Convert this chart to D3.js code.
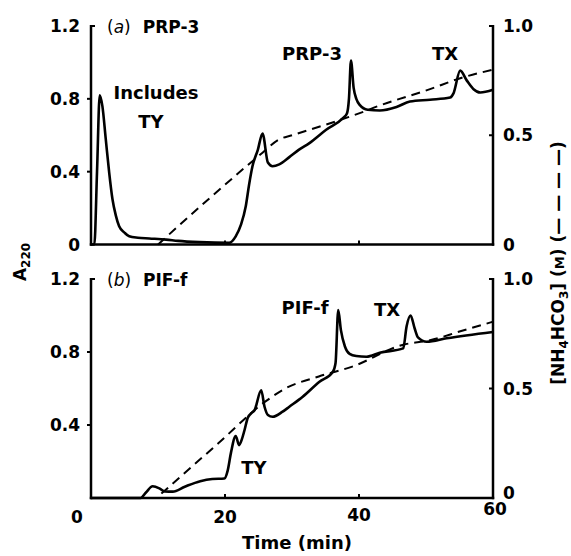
<!DOCTYPE html>
<html><head><meta charset="utf-8">
<script src="https://cdn.jsdelivr.net/npm/d3@7"></script>
<style>
html,body{margin:0;padding:0;background:#fff;}
text{font-family:"DejaVu Sans",Verdana,sans-serif;font-weight:bold;fill:#000;}
</style></head>
<body>
<svg id="chart" width="571" height="556"></svg>
<script>
// ---- data ----
const timeTicks = [0, 20, 40, 60];
const absTicks = [0.4, 0.8, 1.2];
const concTicks = [0, 0.5, 1.0];

// panel (a) PRP-3: A220 trace [time (min), absorbance]
const prpA220 = [[0,0],[0.5,0],[0.9,0.4],[1.3,0.82],[1.7,0.76],[2.2,0.58],[2.7,0.4],[3.2,0.25],[3.7,0.16],[4.2,0.1],[5,0.065],[5.7,0.045],[7,0.037],[8.7,0.033],[11.2,0.027],[13,0.02],[16.2,0.013],[20.6,0.009],[21.6,0.045],[22.4,0.11],[23.1,0.21],[23.6,0.33],[24.1,0.43],[24.9,0.52],[25.6,0.61],[26.4,0.45],[27.1,0.43],[28.1,0.44],[29.6,0.48],[31,0.52],[32.6,0.557],[35.1,0.63],[37.6,0.694],[38.2,0.72],[38.5,0.8],[38.8,1.01],[39.2,0.86],[39.6,0.8],[40.1,0.767],[41.3,0.74],[43.1,0.736],[45.6,0.755],[47.6,0.785],[50.6,0.795],[53.6,0.807],[54.1,0.83],[55.1,0.955],[56.1,0.9],[57.1,0.853],[58.1,0.835],[60,0.85]];
// panel (a) gradient [time, NH4HCO3 (M)]
const prpGradient = [[10,0],[18,0.22],[25.6,0.42],[28,0.48],[30,0.5],[35,0.548],[40,0.6],[43,0.635],[50.6,0.711],[55,0.76],[60,0.8]];

// panel (b) PIF-f
const pifA220 = [[0,0],[7.4,0],[8.2,0.03],[9.2,0.064],[10.2,0.053],[11,0.036],[12.2,0.035],[14,0.062],[16.3,0.092],[18.1,0.104],[19.9,0.107],[20.4,0.15],[20.9,0.25],[21.6,0.34],[22.1,0.29],[22.5,0.32],[22.9,0.37],[23.4,0.44],[23.9,0.464],[24.4,0.48],[25.4,0.59],[25.9,0.5],[26.4,0.455],[27.1,0.445],[28.6,0.473],[29.6,0.5],[31.6,0.555],[34.1,0.637],[36.1,0.692],[36.5,0.74],[36.9,1.03],[37.3,0.92],[37.9,0.83],[38.6,0.79],[39.6,0.778],[41.1,0.774],[43.1,0.796],[46.6,0.82],[47.1,0.94],[47.7,1.0],[48.3,0.93],[48.8,0.88],[50.1,0.856],[53.1,0.875],[60,0.91]];
const pifGradient = [[10.5,0.02],[19,0.25],[26,0.44],[29,0.5],[34,0.555],[39,0.6],[46.6,0.7],[50.6,0.72],[55,0.76],[60,0.805]];

const panels = [
  {id:"a", title:"PRP-3", trace:prpA220, grad:prpGradient, top:26, bottom:244.5, zeroLabel:true,
   notes:[{t:"Includes",x:156,y:93},{t:"TY",x:151,y:122},{t:"PRP-3",x:312,y:54},{t:"TX",x:445,y:54}]},
  {id:"b", title:"PIF-f", trace:pifA220, grad:pifGradient, top:279, bottom:498, zeroLabel:false,
   notes:[{t:"PIF-f",x:305,y:308},{t:"TX",x:387,y:310},{t:"TY",x:254,y:468}]}
];

const svg = d3.select("#chart");
const x = d3.scaleLinear().domain([0,60]).range([91,493]);
const fs = 17;

panels.forEach(p => {
  const yA = d3.scaleLinear().domain([0,1.2]).range([p.bottom,p.top]);
  const yM = d3.scaleLinear().domain([0,1.0]).range([p.bottom,p.top]);
  const g = svg.append("g");

  // axes frame
  const ax = g.append("g").attr("stroke","#000").attr("stroke-width",2.5).attr("fill","none");
  ax.append("line").attr("x1",x(0)).attr("x2",x(0)).attr("y1",yA(1.2)-1).attr("y2",yA(0)+1.2);
  ax.append("line").attr("x1",x(0)-1.2).attr("x2",x(60)+1.2).attr("y1",yA(0)).attr("y2",yA(0));
  ax.append("line").attr("x1",x(60)).attr("x2",x(60)).attr("y1",yM(1)-1).attr("y2",yM(0)+1.2);

  // ticks
  const tk = g.append("g").attr("stroke","#000").attr("stroke-width",2);
  absTicks.forEach(v => {
    if (v === 1.2) tk.append("line").attr("x1",x(0)).attr("x2",x(0)+4).attr("y1",yA(v)).attr("y2",yA(v));
    else tk.append("line").attr("x1",x(0)-4).attr("x2",x(0)).attr("y1",yA(v)).attr("y2",yA(v));
  });
  concTicks.forEach(v => {
    if (v > 0) tk.append("line").attr("x1",x(60)-4).attr("x2",x(60)).attr("y1",yM(v)).attr("y2",yM(v));
  });
  [20,40].forEach(v => {
    tk.append("line").attr("x1",x(v)).attr("x2",x(v)).attr("y1",yA(0)).attr("y2",yA(0)-4);
  });

  // left tick labels
  const leftVals = p.zeroLabel ? [0].concat(absTicks) : absTicks;
  leftVals.forEach(v => {
    g.append("text").attr("x",80).attr("y",yA(v)).attr("dy","0.36em")
      .attr("text-anchor","end").attr("font-size",fs).text(v===0?"0":d3.format(".1f")(v));
  });
  // right tick labels
  concTicks.forEach(v => {
    g.append("text").attr("x",503).attr("y",yM(v) - (v===0 && p.id==="b" ? 5 : 0)).attr("dy","0.36em")
      .attr("text-anchor","start").attr("font-size",fs).text(v===0?"0":d3.format(".1f")(v));
  });

  // panel title
  const tt = g.append("text").attr("x",107).attr("y",p.top+1).attr("dy","0.36em").attr("font-size",fs);
  tt.append("tspan").attr("font-weight","normal").text("(");
  tt.append("tspan").attr("font-style","italic").attr("font-weight","normal").text(p.id);
  tt.append("tspan").attr("font-weight","normal").text(")");
  tt.append("tspan").attr("dx",12).text(p.title);

  // gradient (dashed)
  g.append("path").datum(p.grad)
    .attr("fill","none").attr("stroke","#000").attr("stroke-width",2)
    .attr("stroke-dasharray","9,6")
    .attr("d", d3.line().x(d=>x(d[0])).y(d=>yM(d[1])).curve(d3.curveMonotoneX));

  // absorbance trace
  g.append("path").datum(p.trace)
    .attr("fill","none").attr("stroke","#000").attr("stroke-width",2.6).attr("stroke-linejoin","round")
    .attr("d", d3.line().x(d=>x(d[0])).y(d=>yA(d[1])).curve(d3.curveMonotoneX));

  // annotations
  p.notes.forEach(n => {
    g.append("text").attr("x",n.x).attr("y",n.y).attr("dy","0.36em").attr("text-anchor","middle")
      .attr("font-size",18).text(n.t);
  });
});

// x tick labels (bottom panel)
timeTicks.forEach(v => {
  const off = v===0 ? -14 : (v===60 ? 2 : 0);
  const yy = v===60 ? 509 : (v===40 ? 515 : 517);
  svg.append("text").attr("x",x(v)+off).attr("y",yy).attr("dy","0.36em")
    .attr("text-anchor","middle").attr("font-size",fs).text(v);
});

// axis titles
svg.append("text").attr("x",297).attr("y",543).attr("dy","0.36em").attr("text-anchor","middle")
  .attr("font-size",18).text("Time (min)");

const at = svg.append("text").attr("transform","translate(26,262) rotate(-90)")
  .attr("text-anchor","middle").attr("font-size",fs);
at.append("tspan").text("A");
at.append("tspan").attr("font-size",12).attr("dy",4).text("220");

const rt = svg.append("text").attr("transform","translate(564,263) rotate(-90)")
  .attr("text-anchor","middle").attr("font-size",fs);
rt.append("tspan").text("[NH");
rt.append("tspan").attr("font-size",12).attr("dy",4).text("4");
rt.append("tspan").attr("dy",-4).text("HCO");
rt.append("tspan").attr("font-size",12).attr("dy",4).text("3");
rt.append("tspan").attr("dy",-4).text("] (");
rt.append("tspan").attr("font-size",13).text("M");
rt.append("tspan").text(") (— — — —)");
</script>
</body></html>
